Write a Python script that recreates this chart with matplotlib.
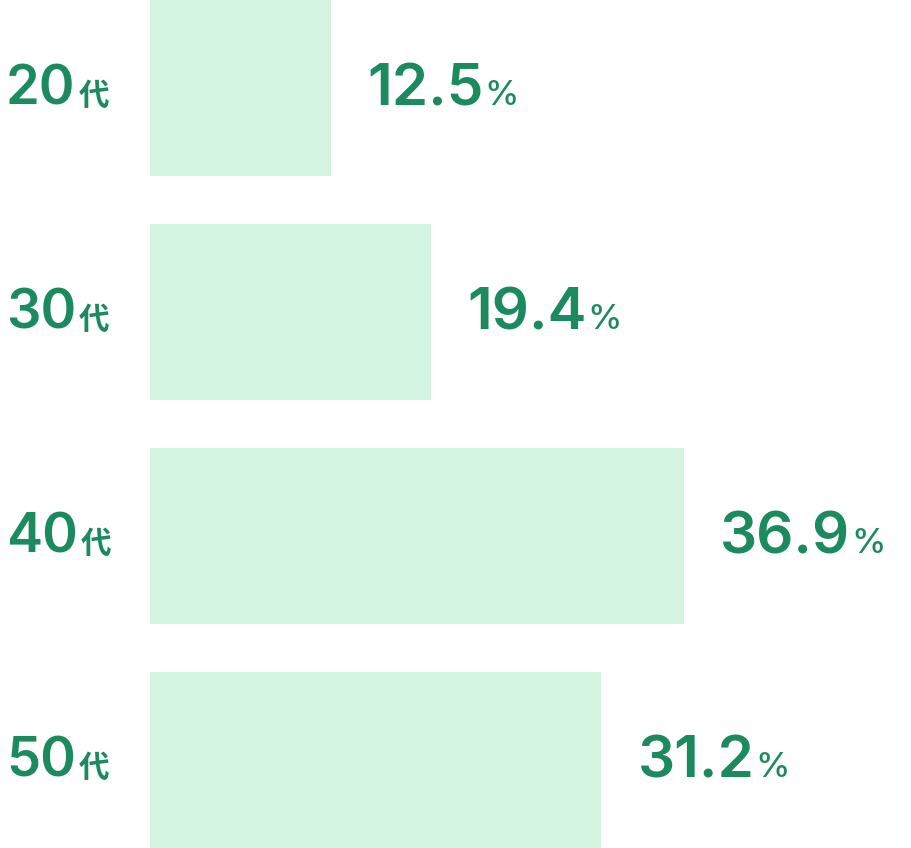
import matplotlib
matplotlib.use("Agg")
import matplotlib.pyplot as plt
import matplotlib.transforms as mtransforms
from matplotlib.offsetbox import TextArea, HPacker, AnnotationBbox

ages = ["20", "30", "40", "50"]
age_suffix = "代"
shares = [12.5, 19.4, 36.9, 31.2]

green = "#1b8a5e"
bar_color = "#d4f4e2"

num_font = {"family": "Inter", "weight": "semibold", "color": green}
cjk_font = {"family": ["Noto Sans CJK JP", "DejaVu Sans"], "weight": "bold", "color": green}

fig = plt.figure(figsize=(9.12, 8.48), dpi=100)
# bars start 150 px from the left edge; ~14.47 px per percent
ax = fig.add_axes([150 / 912, 0, 762 / 912, 1])
bar_h = 176 / 224
ys = list(range(len(ages)))
ax.barh(ys, shares, height=bar_h, color=bar_color, left=0)
ax.set_xlim(0, 762 / 14.47)
ax.set_ylim(len(ages) - 1 + bar_h / 2, -bar_h / 2)
ax.axis("off")


def packed(big, small, big_size, small_size, big_props, small_props, sep):
    a = TextArea(big, textprops=dict(size=big_size, **big_props))
    b = TextArea(small, textprops=dict(size=small_size, **small_props))
    return HPacker(children=[a, b], align="baseline", pad=0, sep=sep)


# category labels at left
lab_tr = mtransforms.blended_transform_factory(fig.transFigure, ax.transData)
for y, age in zip(ys, ages):
    box = packed(age, age_suffix, 39, 22, num_font, cjk_font, 2)
    ab = AnnotationBbox(box, (6 / 912, y + 0.01), xycoords=lab_tr,
                        box_alignment=(0, 0.5), frameon=False, pad=0)
    ax.add_artist(ab)

# value labels right of bars
for y, v in zip(ys, shares):
    box = packed(f"{v:.1f}", "%", 42, 25, num_font,
                 {"family": "Inter", "weight": "medium", "color": green}, 1)
    ab = AnnotationBbox(box, (v, y + 0.01), xycoords="data",
                        xybox=(26, 0), boxcoords="offset points",
                        box_alignment=(0, 0.5), frameon=False, pad=0)
    ax.add_artist(ab)

fig.savefig("out.png", dpi=100)
